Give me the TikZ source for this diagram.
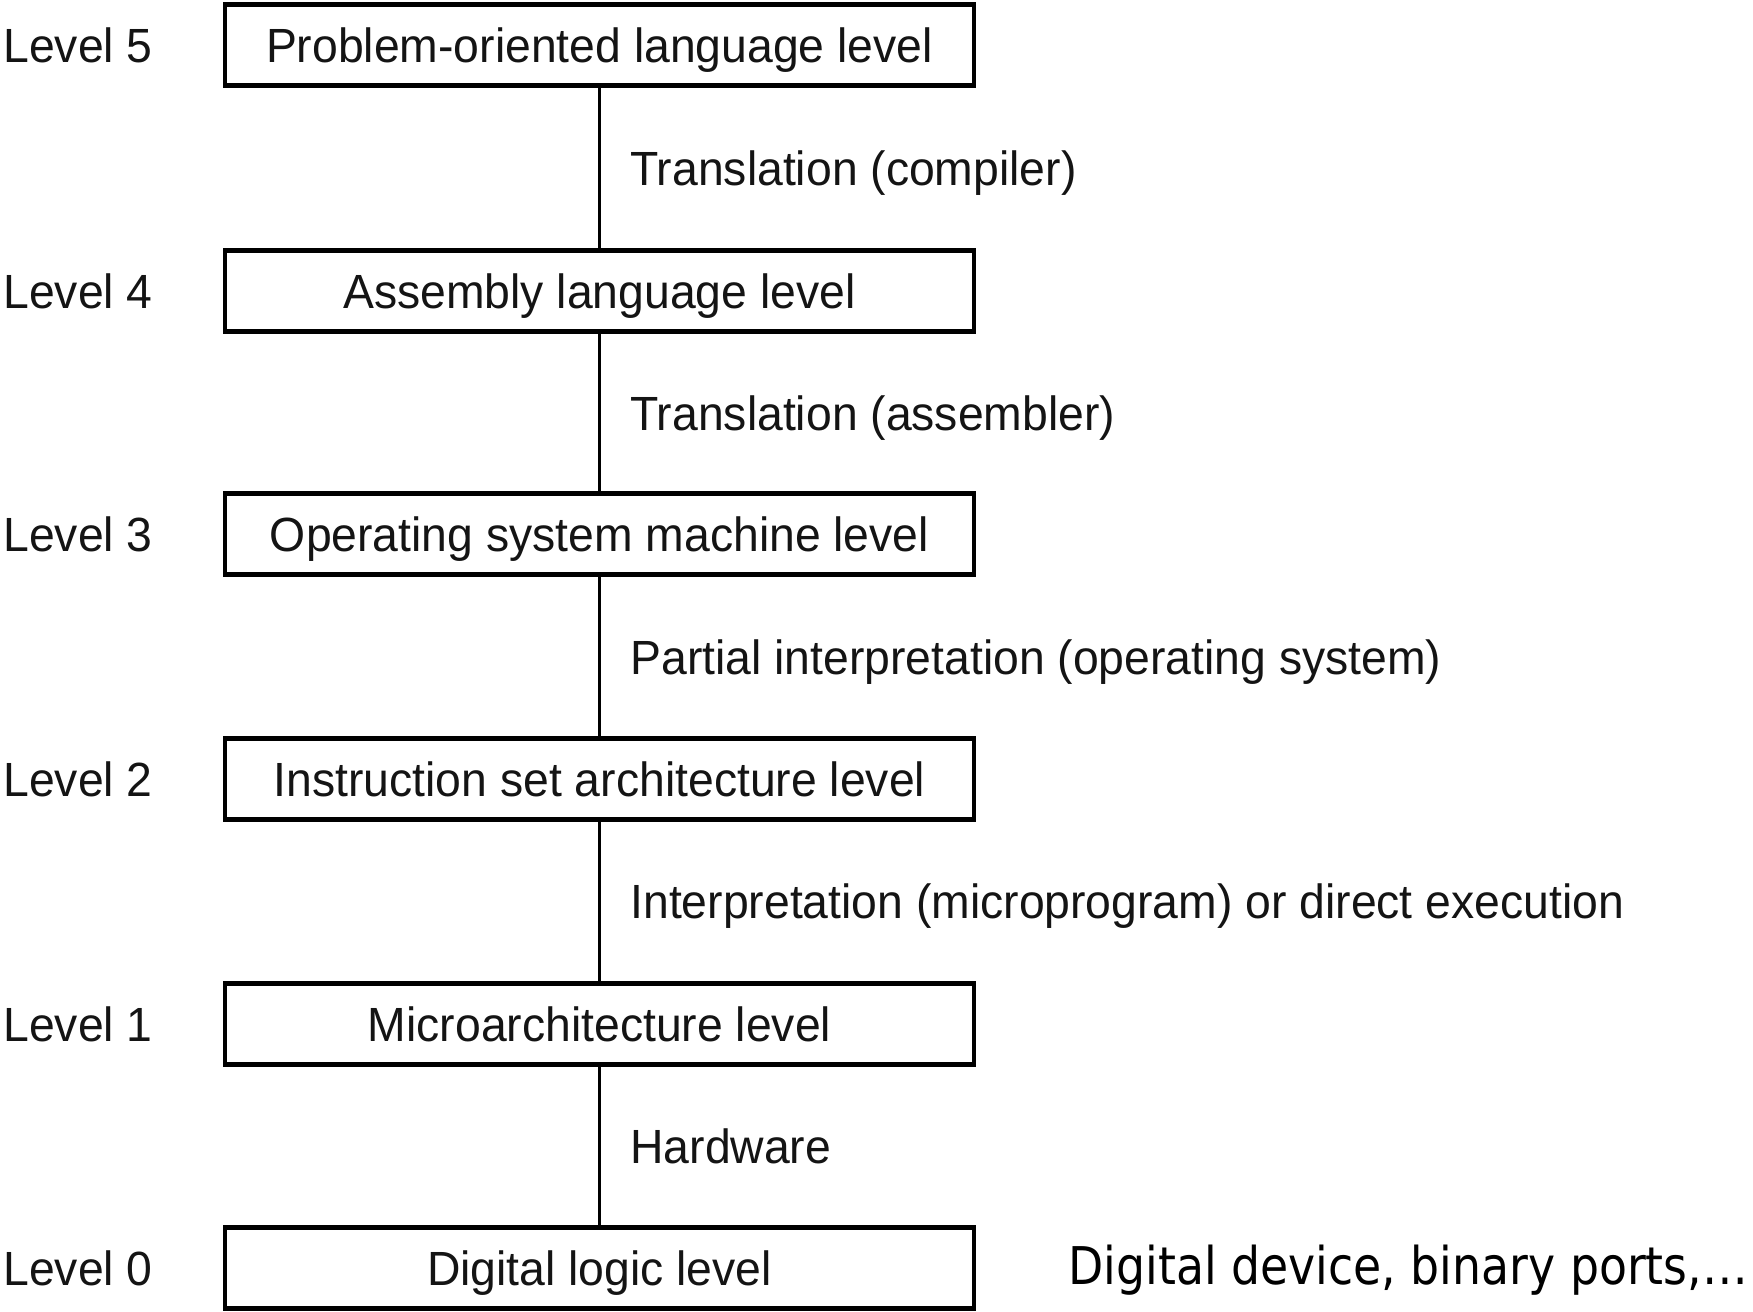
\documentclass[tikz,border=0pt]{standalone}
\usepackage{fontspec}
\setmainfont{Liberation Sans}[FakeStretch=0.965]
\newfontfamily\devfont{DejaVu Sans}[FakeStretch=0.88]
\begin{document}
\begin{tikzpicture}[x=0.5pt,y=-0.5pt,
  txt/.style={font=\fontsize{24}{28}\selectfont, text=black!92, text depth=0pt},
  levelbox/.style={txt, draw=black, line width=2.2pt, minimum width=374.5pt, minimum height=40.5pt, inner sep=0pt},
  lvl/.style={txt, anchor=west, inner sep=0pt},
  lab/.style={txt, anchor=west, inner sep=0pt},
  conn/.style={draw=black, line width=1.4pt}]
\useasboundingbox (0,0) rectangle (1753,1312);
\node[levelbox] (b5) at (599.5,45) {Problem-oriented language level};
\node[levelbox] (b4) at (599.5,291) {Assembly language level};
\node[levelbox] (b3) at (599.5,534) {Operating system machine level};
\node[levelbox] (b2) at (599.5,779) {Instruction set architecture level};
\node[levelbox] (b1) at (599.5,1024) {Microarchitecture level};
\node[levelbox] (b0) at (599.5,1268) {Digital logic level};
\node[lvl] (l5) at (3,45) {Level 5};
\node[lvl] (l4) at (3,291) {Level 4};
\node[lvl] (l3) at (3,534) {Level 3};
\node[lvl] (l2) at (3,779) {Level 2};
\node[lvl] (l1) at (3,1024) {Level 1};
\node[lvl] (l0) at (3,1268) {Level 0};
\draw[conn] (b5) -- (b4);
\draw[conn] (b4) -- (b3);
\draw[conn] (b3) -- (b2);
\draw[conn] (b2) -- (b1);
\draw[conn] (b1) -- (b0);
\node[lab] (t54) at (630,168) {Translation (compiler)};
\node[lab] (t43) at (630,413) {Translation (assembler)};
\node[lab] (t32) at (630,657) {Partial interpretation (operating system)};
\node[lab] (t21) at (630,901) {Interpretation (microprogram) or direct execution};
\node[lab] (t10) at (630,1146) {Hardware};
\node[anchor=west, inner sep=0pt, text depth=0pt, font=\devfont\fontsize{26}{30}\selectfont] (dev) at (1068,1265) {Digital device, binary ports,…};
\end{tikzpicture}
\end{document}
